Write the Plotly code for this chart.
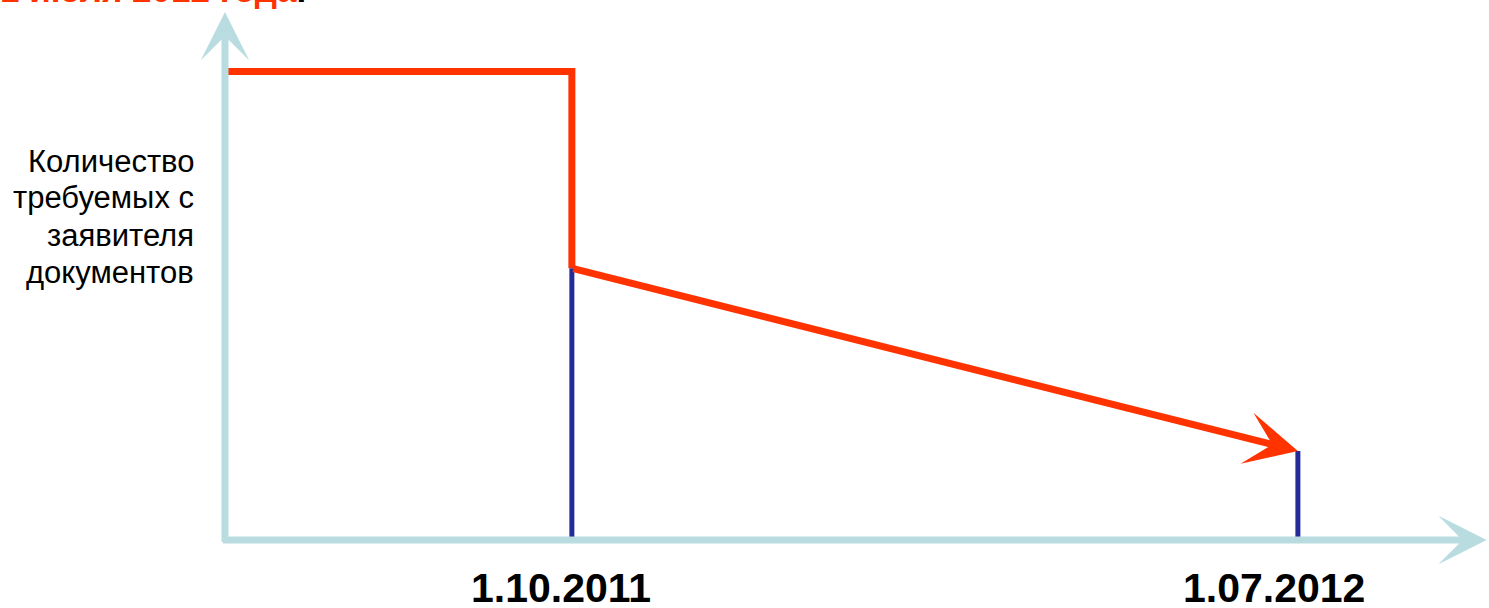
import plotly.graph_objects as go

# ---- data ----
# time in months measured from the chart origin
date_labels = ["1.10.2011", "1.07.2012"]
date_months = [4.30, 13.30]
start_month = 0.0
# number of documents required (relative units)
docs_before = 10.0
docs_after_first = 5.8
docs_after_second = 1.9

y_title_lines = ["Количество", "требуемых с", "заявителя", "документов"]
header_text = "1 июля 2012 года"

# ---- axis ranges / styles ----
X_RANGE = [-2.789, 15.669]
Y_RANGE = [-1.451, 11.526]
X_AXIS_END = 15.64
Y_AXIS_END = 11.27

RED = "#ff3300"
BLUE = "#232b99"
AXIS = "#b8dcdf"
W, H = 1489, 608

fig = go.Figure()

# blue vertical markers at the dates
fig.add_trace(go.Scatter(x=[date_months[0], date_months[0]], y=[0, docs_after_first],
                         mode="lines", line=dict(color=BLUE, width=5), hoverinfo="skip"))
fig.add_trace(go.Scatter(x=[date_months[1], date_months[1]], y=[0, docs_after_second],
                         mode="lines", line=dict(color=BLUE, width=5), hoverinfo="skip"))

# red step line
fig.add_trace(go.Scatter(x=[start_month, date_months[0], date_months[0]],
                         y=[docs_before, docs_before, docs_after_first],
                         mode="lines", line=dict(color=RED, width=7, shape="linear"),
                         hoverinfo="skip"))

annotations = []
# axes as arrows
annotations.append(dict(x=start_month, y=Y_AXIS_END, ax=start_month, ay=-0.075,
                        xref="x", yref="y", axref="x", ayref="y", text="",
                        showarrow=True, arrowhead=3, arrowsize=1.15, arrowwidth=7,
                        arrowcolor=AXIS))
annotations.append(dict(x=X_AXIS_END, y=0, ax=-0.043, ay=0,
                        xref="x", yref="y", axref="x", ayref="y", text="",
                        showarrow=True, arrowhead=3, arrowsize=1.15, arrowwidth=7,
                        arrowcolor=AXIS))
# red sloped arrow
annotations.append(dict(x=date_months[1], y=docs_after_second,
                        ax=date_months[0], ay=docs_after_first,
                        xref="x", yref="y", axref="x", ayref="y", text="",
                        showarrow=True, arrowhead=3, arrowsize=1.25, arrowwidth=7,
                        arrowcolor=RED))

# date labels
for lab, xm, shift in zip(date_labels, date_months, [-11, -24]):
    annotations.append(dict(x=xm, y=0, xref="x", yref="y", text=lab, showarrow=False,
                            xanchor="center", yanchor="middle", xshift=shift, yshift=-48,
                            font=dict(family="Liberation Sans, Arial", size=41,
                                      color="black", weight="bold")))

# y title, one annotation per line
for i, line in enumerate(y_title_lines):
    annotations.append(dict(x=196 / W, y=1 - (161 + 37 * i) / H, xref="paper", yref="paper",
                            text=line, showarrow=False,
                            xanchor="right", yanchor="middle", align="right",
                            font=dict(family="Liberation Sans, Arial", size=31,
                                      color="black")))

# cut-off header at top
annotations.append(dict(x=308 / W, y=1 - 11 / H, xref="paper", yref="paper",
                        text=f"<span style='color:{RED}'>{header_text}</span>.",
                        showarrow=False, xanchor="right", yanchor="bottom",
                        font=dict(family="Liberation Sans, Arial", size=35,
                                  color="black", weight="bold")))

fig.update_layout(
    width=W, height=H,
    margin=dict(l=0, r=0, t=0, b=0),
    paper_bgcolor="white", plot_bgcolor="white",
    showlegend=False,
    xaxis=dict(range=X_RANGE, visible=False, fixedrange=True),
    yaxis=dict(range=Y_RANGE, visible=False, fixedrange=True),
    annotations=annotations,
)

fig.write_html("out.html", config={"displayModeBar": False},
               post_script="document.body.style.margin='0';document.body.style.overflow='hidden';")
